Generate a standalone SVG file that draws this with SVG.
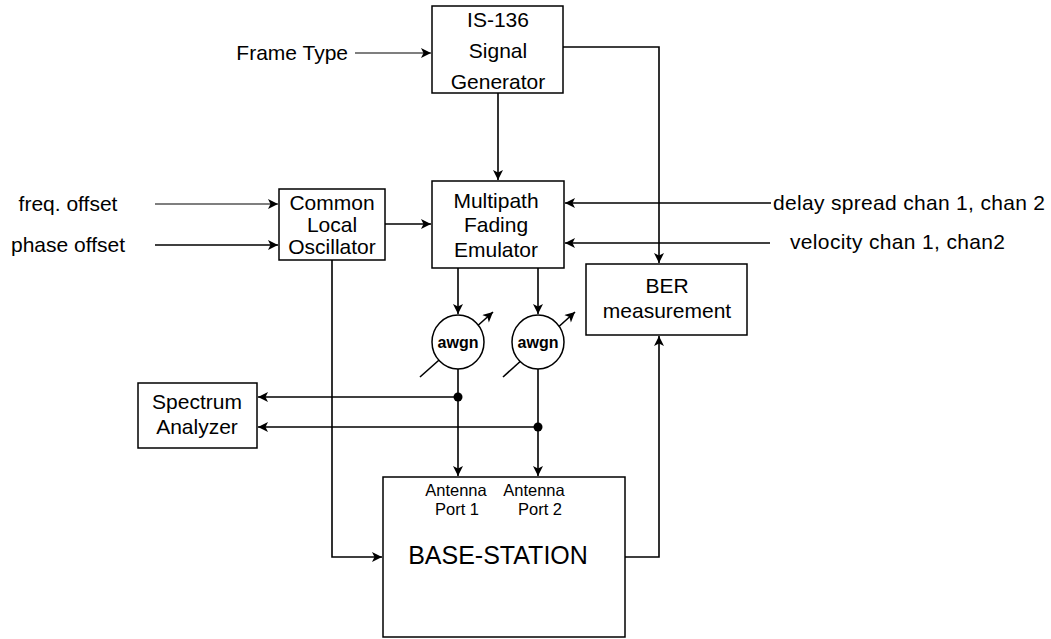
<svg xmlns="http://www.w3.org/2000/svg" width="1051" height="639" viewBox="0 0 1051 639">
<style>
text{font-family:"Liberation Sans",Arial,sans-serif;fill:#000}
.t{font-size:21px}
.c{text-anchor:middle}
.box{fill:#fff;stroke:#000;stroke-width:1.5}
.ln{fill:none;stroke:#000;stroke-width:1.6}
.thin{fill:none;stroke:#000;stroke-width:1.2}
.aw{font-size:16px;font-weight:bold;text-anchor:middle}
.ant{font-size:16.5px;text-anchor:middle}
</style>
<defs>
<marker id="ah" viewBox="0 0 10 10" refX="10" refY="5" markerWidth="12" markerHeight="10" orient="auto" markerUnits="userSpaceOnUse">
<path d="M0,0 L10,5 L0,10 L2.5,5 z" fill="#000"/>
</marker>
</defs>
<rect width="1051" height="639" fill="#fff"/>

<g id="connectors">
<line class="thin" x1="355" y1="53" x2="431" y2="53" marker-end="url(#ah)"/>
<line class="thin" x1="155" y1="204" x2="278" y2="204" marker-end="url(#ah)"/>
<line class="ln" x1="155" y1="245" x2="278" y2="245" marker-end="url(#ah)"/>
<line class="ln" x1="385" y1="224" x2="431" y2="224" marker-end="url(#ah)"/>
<line class="ln" x1="498" y1="93" x2="498" y2="180" marker-end="url(#ah)"/>
<polyline class="ln" points="563,47 659,47 659,263" marker-end="url(#ah)"/>
<line class="ln" x1="771" y1="203" x2="565" y2="203" marker-end="url(#ah)"/>
<line class="ln" x1="770" y1="243" x2="565" y2="243" marker-end="url(#ah)"/>
<line class="ln" x1="458" y1="268" x2="458" y2="314" marker-end="url(#ah)"/>
<line class="ln" x1="538" y1="268" x2="538" y2="314" marker-end="url(#ah)"/>
<line class="ln" x1="420" y1="377" x2="493" y2="312" marker-end="url(#ah)"/>
<line class="ln" x1="503" y1="377" x2="575" y2="312" marker-end="url(#ah)"/>
<line class="ln" x1="458" y1="369" x2="458" y2="476" marker-end="url(#ah)"/>
<line class="ln" x1="538" y1="369" x2="538" y2="476" marker-end="url(#ah)"/>
<line class="ln" x1="458" y1="397" x2="258" y2="397" marker-end="url(#ah)"/>
<line class="ln" x1="538" y1="427" x2="258" y2="427" marker-end="url(#ah)"/>
<circle cx="458" cy="397" r="4.5" fill="#000"/>
<circle cx="538" cy="427" r="4.5" fill="#000"/>
<polyline class="ln" points="332,260 332,557 382,557" marker-end="url(#ah)"/>
<polyline class="ln" points="625,557 659,557 659,336" marker-end="url(#ah)"/>
</g>

<g id="frame-type"><text class="t" x="348" y="60" text-anchor="end">Frame Type</text></g>
<g id="freq-offset"><text class="t c" x="68" y="211">freq. offset</text></g>
<g id="phase-offset"><text class="t c" x="68" y="252">phase offset</text></g>
<g id="delay-spread"><text class="t" x="773" y="210" textLength="272">delay spread chan 1, chan 2</text></g>
<g id="velocity"><text class="t" x="790" y="249" textLength="215">velocity chan 1, chan2</text></g>

<g id="signal-generator">
<rect class="box" x="432" y="6" width="131" height="87"/>
<text class="t c" x="498" y="27">IS-136</text>
<text class="t c" x="498" y="58">Signal</text>
<text class="t c" x="498" y="89">Generator</text>
</g>

<g id="local-oscillator">
<rect class="box" x="279" y="189" width="106" height="71"/>
<text class="t c" x="332" y="210">Common</text>
<text class="t c" x="332" y="232">Local</text>
<text class="t c" x="332" y="254">Oscillator</text>
</g>

<g id="fading-emulator">
<rect class="box" x="432" y="181" width="132" height="87"/>
<text class="t c" x="496" y="208">Multipath</text>
<text class="t c" x="496" y="232">Fading</text>
<text class="t c" x="496" y="257">Emulator</text>
</g>

<g id="ber">
<rect class="box" x="586" y="264" width="161" height="71"/>
<text class="t c" x="667" y="293">BER</text>
<text class="t c" x="667" y="318">measurement</text>
</g>

<g id="awgn1">
<ellipse class="box" cx="458" cy="342" rx="26" ry="27"/>
<text class="aw" x="458" y="348">awgn</text>
</g>
<g id="awgn2">
<ellipse class="box" cx="538" cy="342" rx="26" ry="27"/>
<text class="aw" x="538" y="348">awgn</text>
</g>

<g id="spectrum-analyzer">
<rect class="box" x="138" y="383" width="119" height="65"/>
<text class="t c" x="197" y="409">Spectrum</text>
<text class="t c" x="197" y="434">Analyzer</text>
</g>

<g id="base-station">
<rect class="box" x="383" y="477" width="242" height="160"/>
<text class="ant" x="456" y="496">Antenna</text>
<text class="ant" x="457" y="515">Port 1</text>
<text class="ant" x="534" y="496">Antenna</text>
<text class="ant" x="540" y="515">Port 2</text>
<text x="498" y="564" text-anchor="middle" style="font-size:25px">BASE-STATION</text>
</g>
</svg>
